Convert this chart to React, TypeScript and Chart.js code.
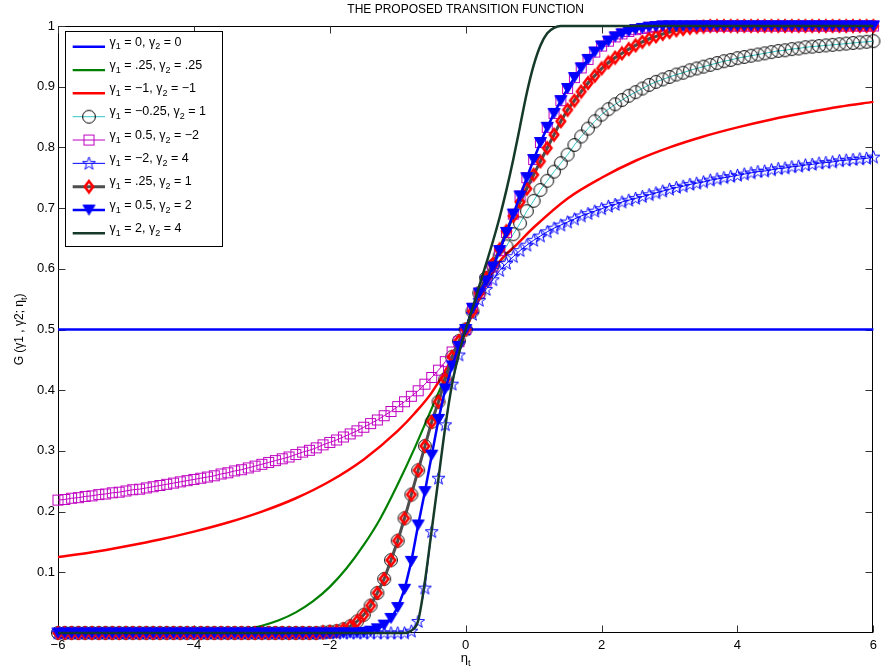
import React, { useEffect, useRef } from 'react';
import { Chart, registerables } from 'chart.js';

Chart.register(...registerables);

const FONT = '"Liberation Sans", Arial, Helvetica, sans-serif';

const X_TICKS = [-6, -4, -2, 0, 2, 4, 6];
const X_TICK_LABELS = ['\u22126', '\u22124', '\u22122', '0', '2', '4', '6'];
const Y_TICKS = [0.1, 0.2, 0.3, 0.4, 0.5, 0.6, 0.7, 0.8, 0.9, 1];
const Y_TICK_LABELS = ['0.1', '0.2', '0.3', '0.4', '0.5', '0.6', '0.7', '0.8', '0.9', '1'];

// sampling grid of the marker curves (eta_t)
const X_GRID = [
  -6, -5.9, -5.8, -5.7, -5.6, -5.5, -5.4, -5.3, -5.2, -5.1,
  -5, -4.9, -4.8, -4.7, -4.6, -4.5, -4.4, -4.3, -4.2, -4.1,
  -4, -3.9, -3.8, -3.7, -3.6, -3.5, -3.4, -3.3, -3.2, -3.1,
  -3, -2.9, -2.8, -2.7, -2.6, -2.5, -2.4, -2.3, -2.2, -2.1,
  -2, -1.9, -1.8, -1.7, -1.6, -1.5, -1.4, -1.3, -1.2, -1.1,
  -1, -0.9, -0.8, -0.7, -0.6, -0.5, -0.4, -0.3, -0.2, -0.1,
  0,
  0.1, 0.2, 0.3, 0.4, 0.5, 0.6, 0.7, 0.8, 0.9, 1,
  1.1, 1.2, 1.3, 1.4, 1.5, 1.6, 1.7, 1.8, 1.9, 2,
  2.1, 2.2, 2.3, 2.4, 2.5, 2.6, 2.7, 2.8, 2.9, 3,
  3.1, 3.2, 3.3, 3.4, 3.5, 3.6, 3.7, 3.8, 3.9, 4,
  4.1, 4.2, 4.3, 4.4, 4.5, 4.6, 4.7, 4.8, 4.9, 5,
  5.1, 5.2, 5.3, 5.4, 5.5, 5.6, 5.7, 5.8, 5.9, 6,
];

// left halves (eta = -6 ... 0), by gamma2
const LEFT_G2_1 = [
  0, 0, 0, 0, 0, 0, 0, 0, 0, 0,
  0, 0, 0, 0, 0, 0, 0, 0, 0, 0,
  0, 0, 0, 0, 0, 0, 0, 0, 0, 0,
  0, 0, 0, 0, 0, 0, 0, 0, 0, 0.001,
  0.002, 0.003, 0.006, 0.011, 0.019, 0.03, 0.045, 0.066, 0.089, 0.12,
  0.152, 0.189, 0.228, 0.268, 0.308, 0.348, 0.381, 0.418, 0.455, 0.481,
  0.5,
];
const LEFT_G2_2 = [
  0, 0, 0, 0, 0, 0, 0, 0, 0, 0,
  0, 0, 0, 0, 0, 0, 0, 0, 0, 0,
  0, 0, 0, 0, 0, 0, 0, 0, 0, 0,
  0, 0, 0, 0, 0, 0, 0, 0, 0, 0,
  0, 0, 0, 0, 0, 0.001, 0.003, 0.007, 0.013, 0.024,
  0.042, 0.072, 0.118, 0.178, 0.233, 0.293, 0.352, 0.402, 0.44, 0.472,
  0.5,
];
const LEFT_G2_4 = [
  0, 0, 0, 0, 0, 0, 0, 0, 0, 0,
  0, 0, 0, 0, 0, 0, 0, 0, 0, 0,
  0, 0, 0, 0, 0, 0, 0, 0, 0, 0,
  0, 0, 0, 0, 0, 0, 0, 0, 0, 0,
  0, 0, 0, 0, 0, 0, 0, 0, 0, 0,
  0, 0, 0.003, 0.019, 0.074, 0.167, 0.255, 0.343, 0.41, 0.458,
  0.5,
];
const LEFT_G2_M2 = [
  0.219, 0.22, 0.222, 0.223, 0.225, 0.226, 0.228, 0.229, 0.231, 0.232,
  0.234, 0.236, 0.237, 0.239, 0.241, 0.243, 0.245, 0.247, 0.249, 0.251,
  0.253, 0.255, 0.257, 0.259, 0.262, 0.264, 0.267, 0.269, 0.272, 0.275,
  0.278, 0.281, 0.284, 0.287, 0.29, 0.294, 0.298, 0.301, 0.305, 0.31,
  0.314, 0.318, 0.323, 0.328, 0.333, 0.339, 0.345, 0.351, 0.358, 0.365,
  0.373, 0.381, 0.39, 0.399, 0.41, 0.421, 0.433, 0.447, 0.463, 0.48,
  0.5,
];

// right halves (eta = 0.1 ... 6), by gamma1
const RIGHT_G1_M025 = [
  0.53, 0.56, 0.585, 0.605, 0.622, 0.637, 0.657, 0.675, 0.695, 0.712,
  0.73, 0.745, 0.76, 0.774, 0.788, 0.804, 0.818, 0.831, 0.843, 0.854,
  0.863, 0.871, 0.878, 0.885, 0.891, 0.897, 0.903, 0.908, 0.912, 0.916,
  0.92, 0.923, 0.927, 0.93, 0.933, 0.936, 0.939, 0.942, 0.944, 0.947,
  0.949, 0.951, 0.953, 0.955, 0.957, 0.959, 0.96, 0.962, 0.963, 0.965,
  0.966, 0.967, 0.968, 0.969, 0.97, 0.971, 0.972, 0.973, 0.974, 0.975,
];
const RIGHT_G1_025 = [
  0.53, 0.56, 0.585, 0.608, 0.632, 0.662, 0.687, 0.71, 0.732, 0.755,
  0.777, 0.799, 0.821, 0.843, 0.862, 0.877, 0.892, 0.906, 0.918, 0.93,
  0.94, 0.948, 0.955, 0.962, 0.968, 0.974, 0.979, 0.983, 0.987, 0.99,
  0.993, 0.995, 0.997, 0.998, 0.999, 1, 1, 1, 1, 1,
  1, 1, 1, 1, 1, 1, 1, 1, 1, 1,
  1, 1, 1, 1, 1, 1, 1, 1, 1, 1,
];
const RIGHT_G1_05 = [
  0.535, 0.56, 0.58, 0.603, 0.63, 0.66, 0.69, 0.72, 0.75, 0.78,
  0.808, 0.833, 0.856, 0.877, 0.897, 0.915, 0.931, 0.945, 0.957, 0.967,
  0.975, 0.982, 0.987, 0.991, 0.994, 0.996, 0.998, 0.999, 1, 1,
  1, 1, 1, 1, 1, 1, 1, 1, 1, 1,
  1, 1, 1, 1, 1, 1, 1, 1, 1, 1,
  1, 1, 1, 1, 1, 1, 1, 1, 1, 1,
];
const RIGHT_G1_M2 = [
  0.525, 0.548, 0.566, 0.582, 0.597, 0.609, 0.62, 0.63, 0.639, 0.647,
  0.654, 0.661, 0.667, 0.672, 0.677, 0.682, 0.687, 0.691, 0.695, 0.699,
  0.703, 0.706, 0.71, 0.713, 0.716, 0.719, 0.722, 0.725, 0.728, 0.731,
  0.734, 0.736, 0.739, 0.741, 0.743, 0.746, 0.748, 0.75, 0.752, 0.754,
  0.756, 0.758, 0.76, 0.761, 0.763, 0.765, 0.766, 0.768, 0.769, 0.771,
  0.772, 0.774, 0.775, 0.776, 0.778, 0.779, 0.78, 0.781, 0.782, 0.784,
];

// line-only curves
const FLAT_X = [-6, 6];
const FLAT_Y = [0.5, 0.5];
const GREEN_X = [-6, -4, -3.5, -3.25, -3, -2.75, -2.5, -2.25, -2, -1.75, -1.5, -1.25, -1, -0.75, -0.5, -0.25, 0, 0.25, 0.5, 0.75, 1, 1.25, 1.5, 1.75, 2, 2.5, 3, 3.5, 4, 6];
const GREEN_Y = [0, 0, 0.002, 0.006, 0.012, 0.021, 0.034, 0.052, 0.076, 0.107, 0.145, 0.19, 0.245, 0.305, 0.37, 0.435, 0.5, 0.575, 0.632, 0.7, 0.755, 0.81, 0.862, 0.899, 0.93, 0.968, 0.99, 0.999, 1, 1];
const RED_X = [-6, -5.5, -5, -4.5, -4, -3.5, -3, -2.5, -2, -1.5, -1, -0.75, -0.5, -0.25, 0, 0.25, 0.5, 0.75, 1, 1.5, 2, 2.5, 3, 3.5, 4, 4.5, 5, 5.5, 6];
const RED_Y = [0.125, 0.133, 0.143, 0.154, 0.167, 0.182, 0.2, 0.222, 0.25, 0.286, 0.333, 0.362, 0.396, 0.442, 0.5, 0.562, 0.612, 0.64, 0.668, 0.716, 0.75, 0.778, 0.8, 0.818, 0.833, 0.846, 0.857, 0.867, 0.875];
const DG_X = [-6, -1, -0.9, -0.8, -0.7, -0.6, -0.5, -0.4, -0.3, -0.2, -0.1, 0, 0.1, 0.2, 0.3, 0.4, 0.5, 0.6, 0.7, 0.8, 0.9, 1, 1.1, 1.2, 1.3, 1.4, 6];
const DG_Y = [0, 0, 0, 0.004, 0.02, 0.085, 0.17, 0.255, 0.34, 0.41, 0.46, 0.5, 0.535, 0.572, 0.608, 0.645, 0.685, 0.73, 0.78, 0.835, 0.89, 0.935, 0.968, 0.988, 0.997, 1, 1];

type Seg = [string, boolean];
const LEGEND_LABELS: Seg[][] = [
  [['\u03b3', false], ['1', true], [' = 0, \u03b3', false], ['2', true], [' = 0', false]],
  [['\u03b3', false], ['1', true], [' = .25, \u03b3', false], ['2', true], [' = .25', false]],
  [['\u03b3', false], ['1', true], [' = \u22121, \u03b3', false], ['2', true], [' = \u22121', false]],
  [['\u03b3', false], ['1', true], [' = \u22120.25, \u03b3', false], ['2', true], [' = 1', false]],
  [['\u03b3', false], ['1', true], [' = 0.5, \u03b3', false], ['2', true], [' = \u22122', false]],
  [['\u03b3', false], ['1', true], [' = \u22122, \u03b3', false], ['2', true], [' = 4', false]],
  [['\u03b3', false], ['1', true], [' = .25, \u03b3', false], ['2', true], [' = 1', false]],
  [['\u03b3', false], ['1', true], [' = 0.5, \u03b3', false], ['2', true], [' = 2', false]],
  [['\u03b3', false], ['1', true], [' = 2, \u03b3', false], ['2', true], [' = 4', false]],
];
const TITLE = 'THE PROPOSED TRANSITION FUNCTION';
const X_LABEL: Seg[] = [['\u03b7', false], ['t', true]];
const Y_LABEL: Seg[] = [['G (\u03b31 , \u03b32; \u03b7', false], ['t', true], [')', false]];

function makeMarker(kind: string): HTMLCanvasElement {
  const c = document.createElement('canvas');
  const dims: Record<string, [number, number]> = {
    circle: [16, 16], square: [13, 13], star: [15, 15], diamond: [14, 16], tri: [15, 13],
  };
  const [w, h] = dims[kind];
  c.width = w; c.height = h;
  const g = c.getContext('2d')!;
  g.lineJoin = 'miter';
  if (kind === 'circle') {
    g.strokeStyle = '#000'; g.lineWidth = 1;
    g.beginPath(); g.arc(8, 8, 6.4, 0, Math.PI * 2); g.stroke();
  } else if (kind === 'square') {
    g.strokeStyle = '#c000c0'; g.lineWidth = 1;
    g.strokeRect(1.5, 1.5, 10, 10);
  } else if (kind === 'star') {
    g.strokeStyle = '#0000ff'; g.lineWidth = 1;
    g.beginPath();
    for (let k = 0; k < 10; k++) {
      const r = k % 2 === 0 ? 6.8 : 2.7;
      const a = -Math.PI / 2 + (k * Math.PI) / 5;
      const px = 7.5 + r * Math.cos(a), py = 7.8 + r * Math.sin(a);
      if (k === 0) g.moveTo(px, py); else g.lineTo(px, py);
    }
    g.closePath(); g.stroke();
  } else if (kind === 'diamond') {
    g.strokeStyle = '#ff0000'; g.lineWidth = 2.6;
    g.beginPath(); g.moveTo(7, 2.5); g.lineTo(11.2, 8); g.lineTo(7, 13.5); g.lineTo(2.8, 8); g.closePath(); g.stroke();
  } else if (kind === 'tri') {
    g.fillStyle = '#0000ff'; g.strokeStyle = '#0000ff'; g.lineWidth = 1;
    g.beginPath(); g.moveTo(1.5, 1.5); g.lineTo(13.5, 1.5); g.lineTo(7.5, 11.5); g.closePath(); g.fill(); g.stroke();
  }
  return c;
}

function drawRich(ctx: CanvasRenderingContext2D, segs: Seg[], x: number, y: number, size: number, align: 'left' | 'center') {
  const sub = size * 0.72;
  let w = 0;
  for (const [t, s] of segs) {
    ctx.font = `${s ? sub : size}px ${FONT}`;
    w += ctx.measureText(t).width;
  }
  let cx = align === 'center' ? x - w / 2 : x;
  ctx.textAlign = 'left';
  ctx.textBaseline = 'alphabetic';
  for (const [t, s] of segs) {
    ctx.font = `${s ? sub : size}px ${FONT}`;
    ctx.fillText(t, cx, s ? y + size * 0.3 : y);
    cx += ctx.measureText(t).width;
  }
}

export default function App() {
  const ref = useRef<HTMLCanvasElement | null>(null);

  useEffect(() => {
    document.body.style.margin = '0';
    const canvas = ref.current!;
    const M = {
      circle: makeMarker('circle'), square: makeMarker('square'), star: makeMarker('star'),
      diamond: makeMarker('diamond'), tri: makeMarker('tri'),
    } as Record<string, HTMLCanvasElement>;

    const series = [
      { xs: FLAT_X, ys: FLAT_Y, color: '#0000ff', lw: 2.5, marker: '', smooth: false },
      { xs: GREEN_X, ys: GREEN_Y, color: '#008000', lw: 2.2, marker: '', smooth: true },
      { xs: RED_X, ys: RED_Y, color: '#ff0000', lw: 2.5, marker: '', smooth: true },
      { xs: X_GRID, ys: [...LEFT_G2_1, ...RIGHT_G1_M025], color: '#33c6c6', lw: 1, marker: 'circle', smooth: false },
      { xs: X_GRID, ys: [...LEFT_G2_M2, ...RIGHT_G1_05], color: '#c000c0', lw: 1, marker: 'square', smooth: false },
      { xs: X_GRID, ys: [...LEFT_G2_4, ...RIGHT_G1_M2], color: '#0000ff', lw: 1, marker: 'star', smooth: false },
      { xs: X_GRID, ys: [...LEFT_G2_1, ...RIGHT_G1_025], color: '#4d4d4d', lw: 3, marker: 'diamond', smooth: false },
      { xs: X_GRID, ys: [...LEFT_G2_2, ...RIGHT_G1_05], color: '#0000ff', lw: 2.5, marker: 'tri', smooth: false },
      { xs: DG_X, ys: DG_Y, color: '#163a2a', lw: 2.5, marker: '', smooth: true },
    ];

    const datasets = series.map((s, i) => ({
      label: 'series ' + (i + 1),
      data: s.xs.map((x, j) => ({ x, y: s.ys[j] })),
      borderColor: s.color,
      backgroundColor: s.color,
      borderWidth: s.lw,
      pointStyle: s.marker ? M[s.marker] : 'circle',
      pointRadius: s.marker ? 5 : 0,
      pointHoverRadius: s.marker ? 5 : 0,
      tension: 0,
      cubicInterpolationMode: s.smooth ? 'monotone' : 'default',
      clip: false,
      fill: false,
      order: 9 - i,
    }));

    const decor = {
      id: 'decor',
      beforeDatasetsDraw(chart: any) {
        const { ctx, chartArea: a, scales } = chart;
        ctx.save();
        const L = Math.round(a.left) + 0.5, R = Math.round(a.right) - 0.5;
        const T = Math.round(a.top) + 0.5, B = Math.round(a.bottom) - 0.5;
        ctx.strokeStyle = '#000';
        ctx.lineWidth = 1;
        ctx.strokeRect(L, T, R - L, B - T);
        ctx.strokeStyle = '#333';
        ctx.beginPath();
        for (const v of X_TICKS) {
          const px = Math.round(scales.x.getPixelForValue(v)) + 0.5;
          ctx.moveTo(px, B); ctx.lineTo(px, B - 7);
          ctx.moveTo(px, T); ctx.lineTo(px, T + 7);
        }
        for (const v of Y_TICKS) {
          const py = Math.round(scales.y.getPixelForValue(v)) + 0.5;
          ctx.moveTo(L, py); ctx.lineTo(L + 7, py);
          ctx.moveTo(R, py); ctx.lineTo(R - 7, py);
        }
        ctx.stroke();
        ctx.restore();
      },
      afterDatasetsDraw(chart: any) {
        const { ctx, chartArea: a } = chart;
        ctx.save();
        ctx.fillStyle = '#000';
        // title
        ctx.font = `12px ${FONT}`;
        ctx.textAlign = 'center';
        ctx.textBaseline = 'middle';
        ctx.fillText(TITLE, (a.left + a.right) / 2, 10);
        // x label
        drawRich(ctx, X_LABEL, (a.left + a.right) / 2, 662, 13, 'center');
        // y label
        ctx.save();
        ctx.translate(23, (a.top + a.bottom) / 2);
        ctx.rotate(-Math.PI / 2);
        drawRich(ctx, Y_LABEL, 0, 0, 12, 'center');
        ctx.restore();
        // legend
        const bx = 65.5, by = 31.5, bw = 157, bh = 215;
        ctx.fillStyle = '#fff';
        ctx.fillRect(bx, by, bw, bh);
        ctx.strokeStyle = '#000';
        ctx.lineWidth = 1;
        ctx.strokeRect(bx, by, bw, bh);
        series.forEach((s, i) => {
          const ly = 46.7 + i * 23.33;
          ctx.strokeStyle = s.color;
          ctx.lineWidth = s.lw;
          ctx.beginPath();
          ctx.moveTo(72.7, ly); ctx.lineTo(105, ly);
          ctx.stroke();
          if (s.marker) {
            const m = M[s.marker];
            ctx.drawImage(m, 89 - m.width / 2, ly - m.height / 2);
          }
          ctx.fillStyle = '#000';
          drawRich(ctx, LEGEND_LABELS[i], 109.5, ly - 1.2, 12.5, 'left');
        });
        ctx.restore();
      },
    };

    const chart = new Chart(canvas, {
      type: 'line',
      data: { datasets: datasets as any },
      options: {
        animation: false,
        responsive: false,
        devicePixelRatio: 1,
        events: [],
        layout: { padding: { top: 26, right: 5, left: 0, bottom: 0 } },
        plugins: { legend: { display: false }, tooltip: { enabled: false }, title: { display: false } },
        scales: {
          x: {
            type: 'linear', min: -6, max: 6,
            afterBuildTicks: (s: any) => { s.ticks = X_TICKS.map((v) => ({ value: v })); },
            afterFit: (s: any) => { s.height = 37; },
            ticks: {
              callback: (v: any) => X_TICK_LABELS[X_TICKS.indexOf(Number(v))] ?? '',
              font: { family: FONT, size: 13 }, color: '#000', padding: 5, maxRotation: 0, autoSkip: false,
            },
            grid: { display: false, drawTicks: false },
            border: { display: false },
          },
          y: {
            type: 'linear', min: 0, max: 1,
            afterBuildTicks: (s: any) => { s.ticks = Y_TICKS.map((v) => ({ value: v })); },
            afterFit: (s: any) => { s.width = 58; },
            ticks: {
              callback: (v: any) => {
                const k = Y_TICKS.findIndex((t) => Math.abs(t - Number(v)) < 1e-9);
                return k >= 0 ? Y_TICK_LABELS[k] : '';
              },
              font: { family: FONT, size: 13 }, color: '#000', padding: 3, autoSkip: false,
            },
            grid: { display: false, drawTicks: false },
            border: { display: false },
          },
        },
      } as any,
      plugins: [decor],
    });
    return () => chart.destroy();
  }, []);

  return (
    <div style={{ width: 882, height: 670, position: 'relative', background: '#fff' }}>
      <canvas ref={ref} width={882} height={670} style={{ display: 'block' }} />
    </div>
  );
}
